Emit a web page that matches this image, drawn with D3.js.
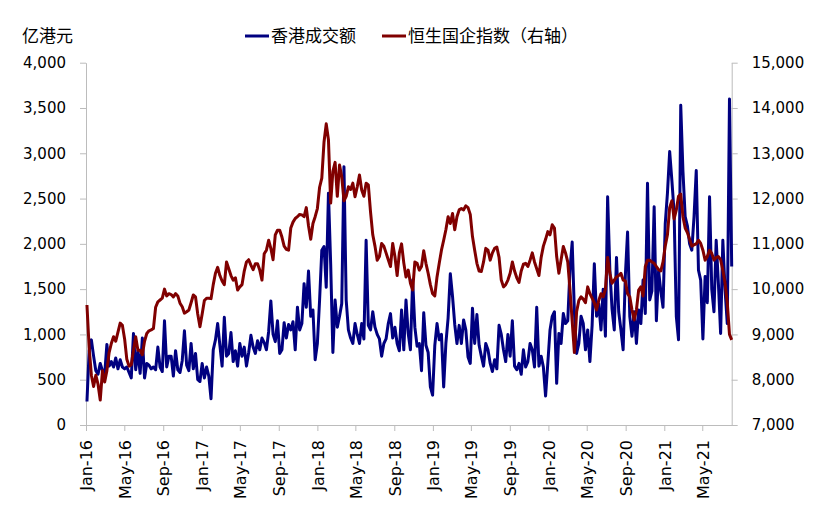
<!DOCTYPE html>
<html>
<head>
<meta charset="utf-8">
<script src="https://cdn.jsdelivr.net/npm/d3@7"></script>
<style>
  body { margin: 0; background: #fff; }
  .axis path, .axis line { stroke: #bcbcbc; stroke-width: 1px; }
  .axis text { font-family: "DejaVu Sans", sans-serif; font-size: 15px; fill: #000; }
  .x-axis text { font-size: 16px; }
  .cjk { font-family: "Noto Sans CJK SC", sans-serif; font-size: 17px; fill: #000; }
</style>
</head>
<body>
<div id="chart"></div>
<script>
// weekly points, first week starts Mon 4 Jan 2016
var weekStart = new Date(2016, 0, 4);

// 香港成交额 (亿港元), one value per week
var turnover2016 = [260, 820, 940, 760, 600, 560, 680, 600, 560, 890,
  650, 700, 640, 740, 620, 720, 640, 620, 640, 580,
  520, 1010, 610, 820, 570, 960, 520, 680, 660, 620,
  640, 610, 860, 640, 590, 1150, 640, 760, 760, 540,
  820, 610, 580, 710, 1040, 660, 600, 900, 620, 790,
  500, 480];
var turnover2017 = [680, 520, 640, 540, 290, 830, 940, 1120, 880, 650,
  1190, 760, 790, 1020, 700, 820, 650, 900, 760, 860,
  650, 800, 990, 860, 790, 930, 830, 960, 910, 830,
  1030, 1370, 1000, 920, 1150, 790, 830, 1130, 960, 1110,
  1050, 1140, 830, 1300, 1050, 1120, 1560, 1300, 1700, 1200,
  1270, 720];
var turnover2018 = [900, 1380, 1930, 1970, 1520, 2560, 1780, 800, 1380, 1080,
  1200, 1340, 2850, 1380, 1050, 960, 900, 1120, 1000, 900,
  1120, 950, 2040, 1100, 1050, 1250, 1080, 1000, 950, 760,
  900, 950, 1120, 1230, 960, 1080, 900, 820, 1270, 830,
  1380, 1010, 830, 1600, 1080, 870, 900, 600, 1240, 880,
  800, 420];
var turnover2019 = [330, 880, 1120, 940, 1000, 420, 900, 1180, 1670, 1420,
  1110, 900, 1100, 900, 1160, 1050, 750, 680, 1290, 900,
  1220, 880, 760, 650, 900, 830, 680, 590, 720, 620,
  1100, 1000, 830, 700, 1000, 760, 1150, 650, 610, 680,
  560, 830, 640, 700, 900, 830, 640, 1300, 650, 760,
  640, 320];
var turnover2020 = [680, 1050, 1200, 1250, 460, 1010, 900, 1230, 1120, 1150,
  1710, 2020, 1250, 790, 900, 1200, 1120, 830, 1050, 700,
  1100, 1780, 1200, 1340, 1050, 1500, 980, 2520, 1720, 1280,
  1050, 1850, 1250, 1050, 830, 1650, 2130, 1200, 980, 1250,
  900, 1270, 1120, 1600, 1230, 2670, 1380, 1480, 2410, 1150,
  1700, 1480];
var turnover2021 = [1300, 2220, 2560, 3020, 2700, 2350, 1200, 940, 3530, 2800,
  2300, 2200, 2000, 1930, 2300, 2810, 1710, 1600, 950, 1640,
  1350, 2520, 1500, 1250, 2040, 1560, 1010, 2040, 1490, 1120,
  3600, 1750];

// 恒生国企指数 (右轴), same weeks
var hscei2016 = [9650, 8700, 8100, 7850, 8100, 7900, 7550, 8200, 7950, 8200,
  8600, 8800, 8950, 8850, 9050, 9250, 9200, 8900, 8450, 8300,
  8330, 8650, 8950, 8650, 8650, 8550, 8850, 9020, 9080, 9100,
  9130, 9600, 9720, 9760, 9800, 10000, 9850, 9900, 9880, 9830,
  9900, 9850, 9690, 9610, 9470, 9500, 9540, 9700, 9870, 9830,
  9450, 9170];
var hscei2017 = [9450, 9750, 9800, 9800, 9790, 10100, 10350, 10480, 10300, 10180,
  10100, 10600, 10450, 10300, 10200, 10250, 9980, 10050, 10100, 10400,
  10600, 10650, 10530, 10430, 10560, 10560, 10420, 10200, 10780, 10860,
  11080, 10900, 10650, 11200, 11300, 11300, 11150, 10950, 10880, 10860,
  11350, 11480, 11560, 11600, 11650, 11640, 11600, 11800, 11400, 11100,
  11450, 11600];
var hscei2018 = [11780, 12250, 12450, 13250, 13650, 13300, 11900, 12600, 12800, 12050,
  12740, 12480, 11950, 12050, 12260, 12200, 12340, 12040, 12260, 12520,
  12190, 12050, 12340, 12300, 11700, 11200, 10950, 10640, 10720, 11010,
  10950, 10800, 10650, 10500, 11010, 10720, 10300, 10800, 11000, 10580,
  10270, 10420, 10130, 9980, 10600, 10570, 10420, 10500, 10850, 10570,
  10350, 10100];
var hscei2019 = [9900, 9850, 10270, 10570, 10860, 11080, 11310, 11600, 11450, 11670,
  11310, 11600, 11750, 11780, 11750, 11840, 11800, 11650, 11160, 10860,
  10570, 10400, 10390, 10600, 10900, 10860, 10640, 10800, 10900, 10930,
  10700, 10200, 10050, 10100, 10200, 10350, 10600, 10400, 10250, 10150,
  10400, 10550, 10570, 10500, 10640, 10800, 10600, 10450, 10300, 10700,
  10950, 11100];
var hscei2020 = [11270, 11200, 11420, 11350, 10720, 10350, 10650, 10940, 10800, 10600,
  10000, 9300, 8600, 9500, 9750, 9830, 9780, 9700, 10050, 9900,
  9800, 9700, 9540, 9750, 9900, 9830, 10000, 10700, 10350, 10130,
  10200, 10270, 10300, 10350, 10200, 10180, 9900, 9830, 9540, 9320,
  9540, 9980, 10050, 9850, 10500, 10640, 10640, 10600, 10570, 10500,
  10430, 10400];
var hscei2021 = [10600, 10950, 11200, 11800, 11950, 11550, 11750, 12050, 12100, 11600,
  11350, 11250, 11100, 10950, 10980, 11000, 11080, 11010, 10860, 10640,
  10720, 10860, 10790, 10640, 10700, 10720, 10650, 10420, 10130, 9700,
  9000, 8880];

var leftTicks = [0, 500, 1000, 1500, 2000, 2500, 3000, 3500, 4000];
var rightTicks = [7000, 8000, 9000, 10000, 11000, 12000, 13000, 14000, 15000];
var seriesNames = ["香港成交额", "恒生国企指数（右轴）"];
var unitLabel = "亿港元";

var turnover = [].concat(turnover2016, turnover2017, turnover2018, turnover2019, turnover2020, turnover2021);
var hscei = [].concat(hscei2016, hscei2017, hscei2018, hscei2019, hscei2020, hscei2021);

function weekDate(i) {
  return d3.timeDay.offset(weekStart, 7 * i);
}

var width = 827,
    height = 511;

var plotLeft = 86, plotRight = 731.7, plotTop = 62.7, plotBottom = 425;

var x = d3.scaleTime()
  .domain([new Date(2016, 0, 1), new Date(2021, 7, 2)])
  .range([plotLeft, plotRight]);

var yL = d3.scaleLinear().domain([0, 4000]).range([plotBottom, plotTop]);
var yR = d3.scaleLinear().domain([7000, 15000]).range([plotBottom, plotTop]);

var svg = d3.select("#chart").append("svg")
  .attr("width", width)
  .attr("height", height)
  .style("background", "#fff");

// axes
svg.append("g")
  .attr("class", "axis")
  .attr("transform", "translate(" + plotLeft + ",0)")
  .call(d3.axisLeft(yL).tickValues(leftTicks).tickFormat(d3.format(","))
    .tickSizeInner(6).tickSizeOuter(0).tickPadding(14));

svg.append("g")
  .attr("class", "axis")
  .attr("transform", "translate(" + plotRight + ",0)")
  .call(d3.axisRight(yR).tickValues(rightTicks).tickFormat(d3.format(","))
    .tickSizeInner(6).tickSizeOuter(0).tickPadding(14));

var xAxis = svg.append("g")
  .attr("class", "axis x-axis")
  .attr("transform", "translate(0," + plotBottom + ")")
  .call(d3.axisBottom(x).ticks(d3.timeMonth.every(4)).tickFormat(d3.timeFormat("%b-%y"))
    .tickSizeInner(6).tickSizeOuter(0));

xAxis.selectAll("text")
  .attr("transform", "rotate(-90)")
  .attr("text-anchor", "end")
  .attr("x", -15)
  .attr("y", 0)
  .attr("dy", "0.36em");

// lines
var blueLine = d3.line()
  .x(function (d, i) { return x(weekDate(i)); })
  .y(function (d) { return yL(d); });

var redLine = d3.line()
  .x(function (d, i) { return x(weekDate(i)); })
  .y(function (d) { return yR(d); });

svg.append("path")
  .datum(turnover)
  .attr("fill", "none")
  .attr("stroke", "#000080")
  .attr("stroke-width", 3)
  .attr("stroke-linejoin", "round")
  .attr("d", blueLine);

svg.append("path")
  .datum(hscei)
  .attr("fill", "none")
  .attr("stroke", "#800000")
  .attr("stroke-width", 3)
  .attr("stroke-linejoin", "round")
  .attr("d", redLine);

// unit label and legend
svg.append("text")
  .attr("class", "cjk")
  .attr("x", 22)
  .attr("y", 42)
  .text(unitLabel);

var legend = svg.append("g");
var legendX = [245, 382];
var legendColors = ["#000080", "#800000"];

seriesNames.forEach(function (name, i) {
  legend.append("line")
    .attr("x1", legendX[i]).attr("x2", legendX[i] + 24)
    .attr("y1", 36).attr("y2", 36)
    .attr("stroke", legendColors[i])
    .attr("stroke-width", 3);
  legend.append("text")
    .attr("class", "cjk")
    .attr("x", legendX[i] + 26)
    .attr("y", 42)
    .text(name);
});
</script>
</body>
</html>
